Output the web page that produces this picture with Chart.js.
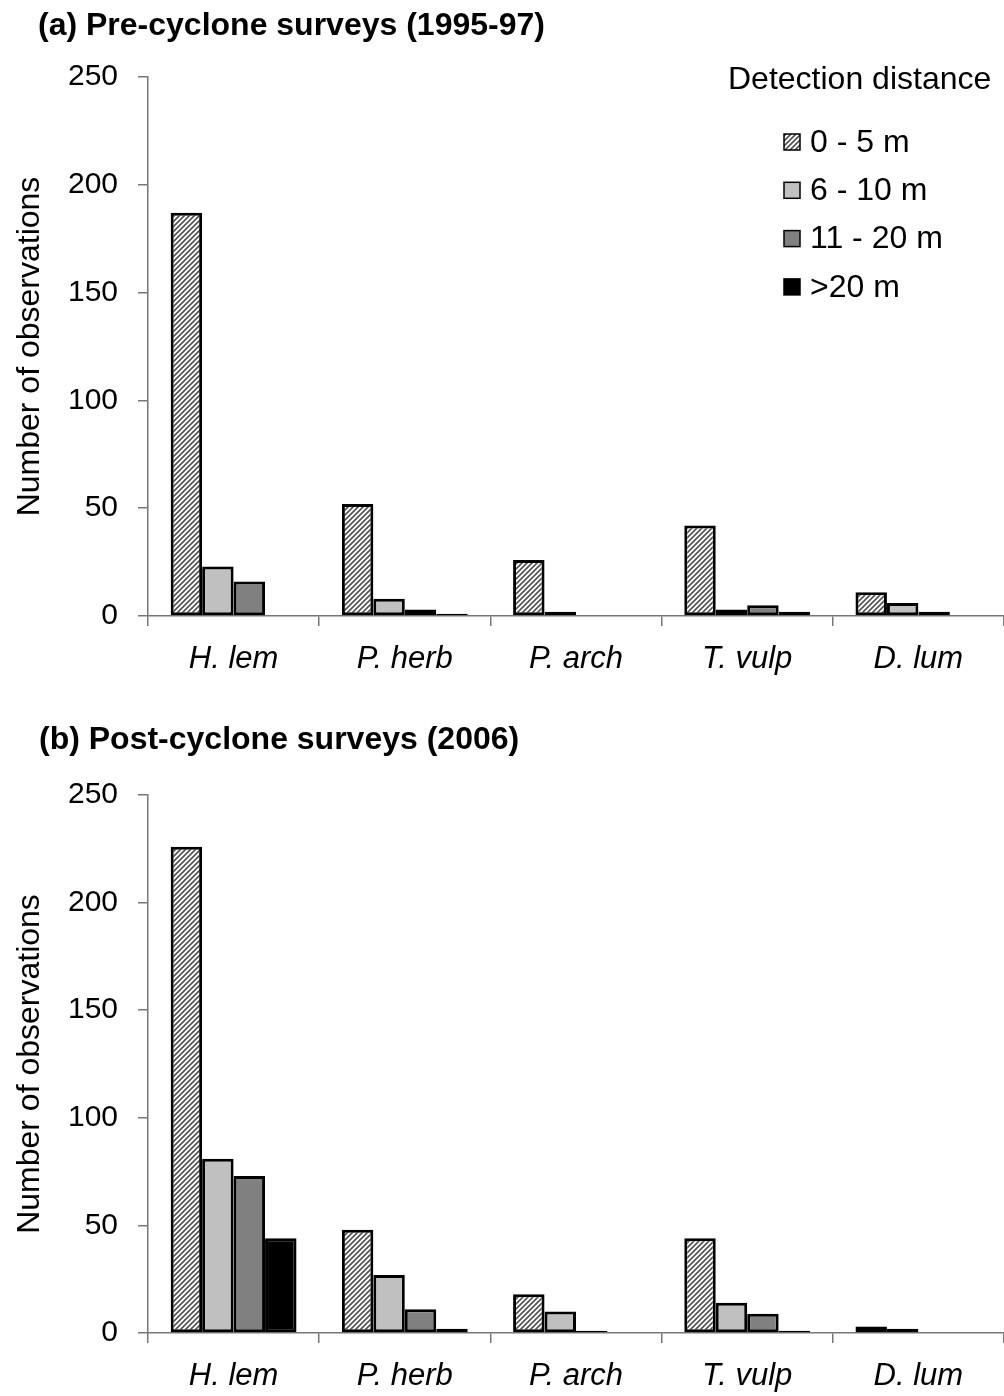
<!DOCTYPE html>
<html>
<head>
<meta charset="utf-8">
<script src="https://cdn.jsdelivr.net/npm/chart.js@4.4.0/dist/chart.umd.min.js"></script>
<style>
  body { margin: 0; background: #fff; width: 1004px; height: 1396px; position: relative; overflow: hidden;
         font-family: 'Liberation Sans', Arial, sans-serif; }
  canvas { position: absolute; left: 0; }
  .title { position: absolute; font-weight: bold; font-size: 32px; line-height: 36px; color: #000; white-space: nowrap; }
</style>
</head>
<body>
<canvas id="chartA" width="1004" height="700" style="top:0px"></canvas>
<canvas id="chartB" width="1004" height="696" style="top:700px"></canvas>
<div class="title" style="left:38px; top:6px;">(a) Pre-cyclone surveys (1995-97)</div>
<div class="title" style="left:39px; top:720px;">(b) Post-cyclone surveys (2006)</div>

<script>
// species on the x axis
var species = ["H. lem", "P. herb", "P. arch", "T. vulp", "D. lum"];
var distanceLabels = ["0 - 5 m", "6 - 10 m", "11 - 20 m", ">20 m"];
var yTicks = [0, 50, 100, 150, 200, 250];

// (a) pre-cyclone, 1995-97
var pre_0_5 = [187, 52, 26, 42, 11];
var pre_6_10 = [23, 8, 2, 3, 6];
var pre_11_20 = [16, 3, 0, 5, 2];
var pre_20 = [0, 1, 0, 2, 0];

// (b) post-cyclone, 2006
var post_0_5 = [226, 48, 18, 44, 3];
var post_6_10 = [81, 27, 10, 14, 2];
var post_11_20 = [73, 11, 1, 9, 0];
var post_20 = [44, 2, 0, 1, 0];

Chart.defaults.font.family = "'Liberation Sans', Arial, sans-serif";
Chart.defaults.color = "#000";

// diagonal hatch used for the 0-5 m bars
function makeHatch() {
    var s = 5;
    var tile = document.createElement("canvas");
    tile.width = s;
    tile.height = s;
    var c = tile.getContext("2d");
    c.fillStyle = "#fff";
    c.fillRect(0, 0, s, s);
    c.strokeStyle = "#555";
    c.lineWidth = 1.7;
    c.beginPath();
    c.moveTo(-1, s + 1); c.lineTo(s + 1, -1);
    c.moveTo(-1, 1); c.lineTo(1, -1);
    c.moveTo(s - 1, s + 1); c.lineTo(s + 1, s - 1);
    c.stroke();
    return c.createPattern(tile, "repeat");
}
var hatch = makeHatch();
var fills = [hatch, "#c0c0c0", "#808080", "#000000"];

function buildDatasets(series) {
    var ds = [];
    for (var i = 0; i < series.length; i++) {
        ds.push({
            label: distanceLabels[i],
            data: series[i],
            backgroundColor: fills[i],
            borderColor: "#000",
            borderWidth: 3,
            borderSkipped: false,
            barPercentage: 1.0,
            categoryPercentage: 0.735
        });
    }
    return ds;
}

// legend drawn inside panel (a), top right
var detectionLegend = {
    id: "detectionLegend",
    afterDraw: function (chart, args, opts) {
        if (!opts.show) return;
        var ctx = chart.ctx;
        ctx.save();
        ctx.font = "32px 'Liberation Sans', Arial, sans-serif";
        ctx.fillStyle = "#000";
        ctx.textBaseline = "middle";
        ctx.textAlign = "left";
        ctx.fillText("Detection distance", 728, 80);
        var dsets = chart.data.datasets;
        for (var i = 0; i < dsets.length; i++) {
            var y = 142 + i * 48.3;
            ctx.fillStyle = dsets[i].backgroundColor;
            ctx.fillRect(784, y - 8, 16, 16);
            ctx.strokeStyle = "#000";
            ctx.lineWidth = 1.5;
            ctx.strokeRect(784, y - 8, 16, 16);
            ctx.fillStyle = "#000";
            ctx.fillText(dsets[i].label, 810, y + 1);
        }
        ctx.restore();
    }
};

function makeChart(id, series, topPad, xHeight, showLegend) {
    var ctx = document.getElementById(id).getContext("2d");
    return new Chart(ctx, {
        type: "bar",
        data: {
            labels: species,
            datasets: buildDatasets(series)
        },
        options: {
            responsive: false,
            animation: false,
            devicePixelRatio: 1,
            layout: { padding: { top: topPad, left: 0, right: 0, bottom: 0 } },
            plugins: {
                legend: { display: false },
                tooltip: { enabled: false },
                detectionLegend: { show: showLegend }
            },
            scales: {
                x: {
                    afterFit: function (scale) { scale.height = xHeight; },
                    grid: { display: true, offset: true, drawOnChartArea: false, drawTicks: true,
                            tickLength: 10, color: "#777", lineWidth: 1.5 },
                    border: { display: true, color: "#777", width: 1.5 },
                    ticks: { padding: 15, font: { size: 31, style: "italic" }, color: "#000", maxRotation: 0 }
                },
                y: {
                    min: 0,
                    max: 250,
                    afterFit: function (scale) { scale.width = 148; },
                    afterBuildTicks: function (scale) {
                        scale.ticks = yTicks.map(function (v) { return { value: v }; });
                    },
                    grid: { display: true, drawOnChartArea: false, drawTicks: true,
                            tickLength: 10, color: "#777", lineWidth: 1.5 },
                    border: { display: true, color: "#777", width: 1.5 },
                    ticks: { padding: 20, font: { size: 30 }, color: "#000" },
                    title: { display: true, text: "Number of observations", font: { size: 32 },
                             color: "#000", padding: { top: 11, bottom: 0 } }
                }
            }
        },
        plugins: [detectionLegend]
    });
}

var chartA = makeChart("chartA", [pre_0_5, pre_6_10, pre_11_20, pre_20], 77, 84, true);
var chartB = makeChart("chartB", [post_0_5, post_6_10, post_11_20, post_20], 95, 63, false);
</script>
</body>
</html>
